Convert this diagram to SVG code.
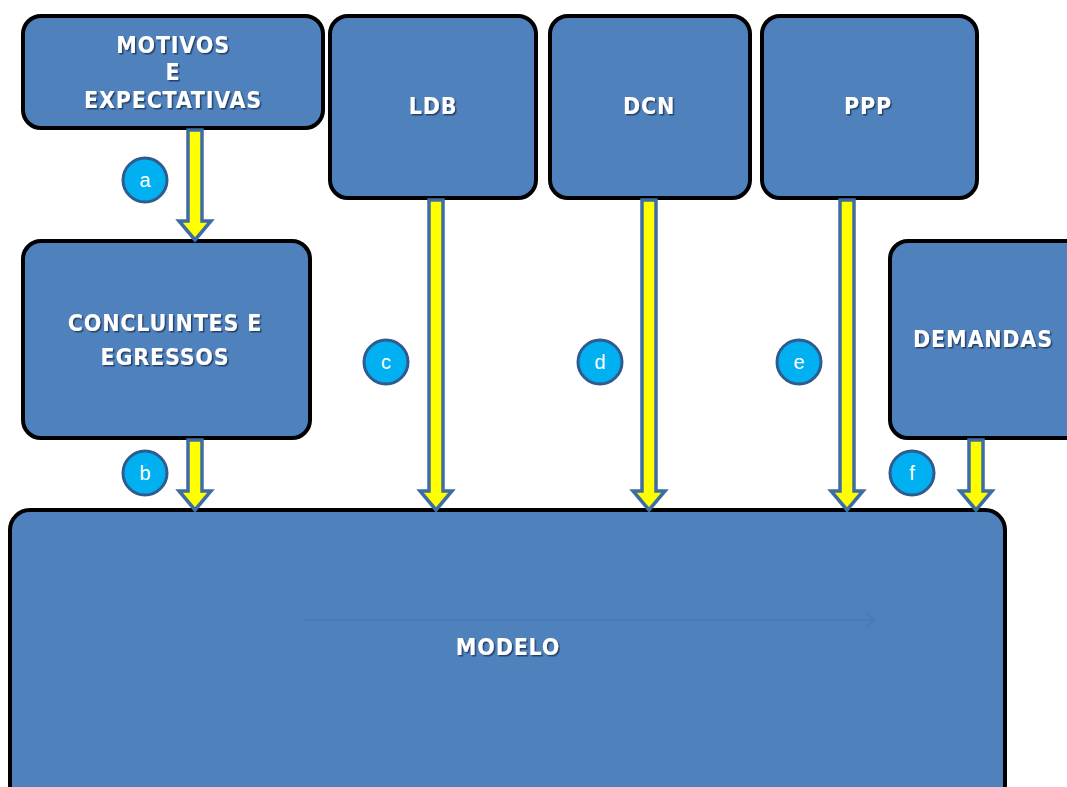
<svg xmlns="http://www.w3.org/2000/svg" width="1067" height="787" viewBox="0 0 1067 787">
<defs>
<filter id="sh" x="-10%" y="-30%" width="130%" height="170%"><feDropShadow dx="1.5" dy="1.5" stdDeviation="0.6" flood-color="#1f3a60" flood-opacity="0.9"/></filter>
<marker id="faint" markerWidth="12" markerHeight="16" refX="10" refY="8" orient="auto" markerUnits="userSpaceOnUse"><path d="M1,1 L10,8 L1,15" fill="none" stroke="#4a7ab5" stroke-width="2"/></marker>
</defs>
<style>
.box{fill:#4f81bd;stroke:#000;stroke-width:4}
.lbl{font-family:"DejaVu Sans Condensed","DejaVu Sans",Verdana,sans-serif;font-weight:bold;font-size:23px;letter-spacing:0.8px;fill:#fff;text-anchor:middle;filter:url(#sh)}
.arr{fill:#ffff00;stroke:#3e6da3;stroke-width:3.5;stroke-linejoin:miter}
.bad circle{fill:#00b0f0;stroke:#2f5b8f;stroke-width:3}
.bad text{font-family:"Liberation Sans",Arial,sans-serif;font-size:20px;fill:#fff;text-anchor:middle}
</style>
<rect width="1067" height="787" fill="#fff"/>
<g id="modelo">
<rect class="box" x="10" y="510" width="995" height="300" rx="20"/>
<line x1="305" y1="620" x2="875" y2="620" stroke="#4a7ab5" stroke-width="2" marker-end="url(#faint)"/>
<text class="lbl" x="508" y="655">MODELO</text>
</g>
<g id="motivos">
<rect class="box" x="23" y="16" width="300" height="112" rx="18"/>
<text class="lbl" x="173" y="53">MOTIVOS</text>
<text class="lbl" x="173" y="80">E</text>
<text class="lbl" x="173" y="108">EXPECTATIVAS</text>
</g>
<g id="ldb">
<rect class="box" x="330" y="16" width="206" height="182" rx="18"/>
<text class="lbl" x="433" y="114">LDB</text>
</g>
<g id="dcn">
<rect class="box" x="550" y="16" width="200" height="182" rx="18"/>
<text class="lbl" x="649" y="114">DCN</text>
</g>
<g id="ppp">
<rect class="box" x="762" y="16" width="215" height="182" rx="18"/>
<text class="lbl" x="868" y="114">PPP</text>
</g>
<g id="concluintes">
<rect class="box" x="23" y="241" width="287" height="197" rx="18"/>
<text class="lbl" x="165" y="331" letter-spacing="1.5">CONCLUINTES E</text>
<text class="lbl" x="165" y="365" letter-spacing="1.5">EGRESSOS</text>
</g>
<g id="demandas">
<rect class="box" x="890" y="241" width="200" height="197" rx="18"/>
<text class="lbl" x="983" y="347">DEMANDAS</text>
</g>
<g id="connectors">
<path class="arr" d="M188,130 H202 V221 H211 L195,240 L179,221 H188 Z"/>
<path class="arr" d="M188,440 H202 V491 H211 L195,510 L179,491 H188 Z"/>
<path class="arr" d="M429,200 H443 V491 H452 L436,510 L420,491 H429 Z"/>
<path class="arr" d="M642,200 H656 V491 H665 L649,510 L633,491 H642 Z"/>
<path class="arr" d="M840,200 H854 V491 H863 L847,510 L831,491 H840 Z"/>
<path class="arr" d="M969,440 H983 V491 H992 L976,510 L960,491 H969 Z"/>
</g>
<g id="badges" class="bad">
<g id="badge-a"><circle cx="145" cy="180" r="22"/><text x="145" y="187">a</text></g>
<g id="badge-b"><circle cx="145" cy="473" r="22"/><text x="145" y="480">b</text></g>
<g id="badge-c"><circle cx="386" cy="362" r="22"/><text x="386" y="369">c</text></g>
<g id="badge-d"><circle cx="600" cy="362" r="22"/><text x="600" y="369">d</text></g>
<g id="badge-e"><circle cx="799" cy="362" r="22"/><text x="799" y="369">e</text></g>
<g id="badge-f"><circle cx="912" cy="473" r="22"/><text x="912" y="480">f</text></g>
</g>
</svg>
